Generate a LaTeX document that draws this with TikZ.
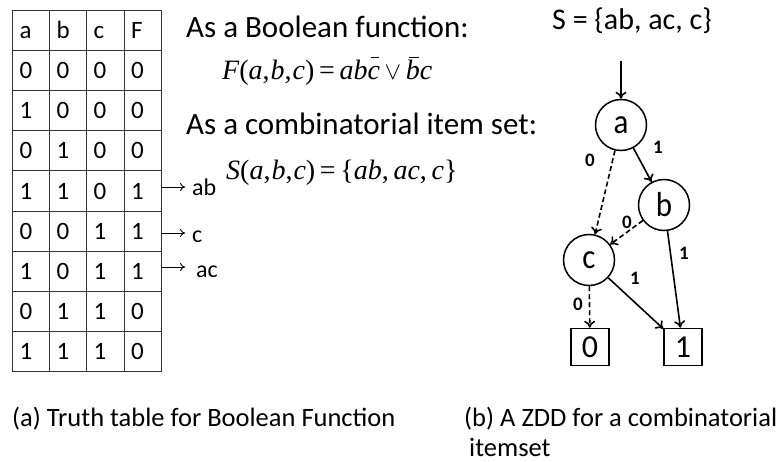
\documentclass[tikz,border=0pt]{standalone}
\usepackage{fontspec}
\setmainfont{Carlito}
\newfontfamily\tnr{Liberation Serif}
\usetikzlibrary{arrows.meta}
\newcommand\ovbar[1]{\leavevmode\setbox0\hbox{#1}\rlap{\hspace{0.25\wd0}\raisebox{0.78em}{\rule{0.7\wd0}{0.05em}}}\box0}
\newcommand\ital[1]{{\itshape #1}}
\newcommand\tallt[1]{\scalebox{1}[1.12]{#1}}
\tikzset{
  cell/.style={inner sep=0pt, anchor=base west, font=\fontsize{25}{27}\selectfont},
  tgrid/.style={draw=black!80, line width=0.9pt},
  big/.style={inner sep=0pt, anchor=base west, font=\fontsize{31}{33}\selectfont},
  eq/.style={inner sep=0pt, anchor=base west, font=\tnr\fontsize{28}{30}\selectfont},
  tarrow/.style={-{To[length=5pt,width=8pt]}, line width=0.9pt},
  side/.style={inner sep=0pt, anchor=base west, font=\fontsize{24}{26}\selectfont},
  zn/.style={circle, draw, line width=1.5pt, minimum size=51pt, inner sep=0pt, font=\fontsize{31}{33}\selectfont},
  zt/.style={rectangle, draw, line width=1.5pt, minimum width=38pt, minimum height=37pt, inner sep=0pt, font=\fontsize{32}{34}\selectfont},
  zedge/.style={-{To[length=7pt,width=11pt]}, line width=1.6pt},
  zdash/.style={zedge, dash pattern=on 5pt off 3pt},
  lab/.style={inner sep=0pt, font=\bfseries\fontsize{19}{21}\selectfont},
  captext/.style={inner sep=0pt, anchor=base west, font=\fontsize{26.5}{29}\selectfont}
}
\begin{document}
\begin{tikzpicture}[x=1pt, y=-1pt]
\useasboundingbox (0,0) rectangle (778,462);
% table grid
\foreach \xx in {12,49,86,124,161} \draw[tgrid] (\xx,10) -- (\xx,372);
\foreach \r in {0,...,9} \draw[tgrid] (12,10+40.2*\r) -- (161,10+40.2*\r);
% table content
\foreach \row [count=\i from 0] in {{a,b,c,F},{0,0,0,0},{1,0,0,0},{0,1,0,0},{1,1,0,1},{0,0,1,1},{1,0,1,1},{0,1,1,0},{1,1,1,0}}{
  \foreach \v [count=\j from 0] in \row {
    \pgfmathsetmacro\cx{{19.5,56.5,93.5,131}[\j]}
    \node[cell] (t\i-\j) at (\cx, 10+40.2*\i+28.3) {\v};
  }
}
% arrows from table
\coordinate (r4) at (161,187);
\coordinate (r5) at (161,233);
\coordinate (r6) at (161,267);
\node[side] (ab) at (192,196) {ab};
\node[side] (cc) at (192,243) {c};
\node[side] (ac) at (196,277) {ac};
\draw[tarrow] (r4) -- (185,187);
\draw[tarrow] (r5) -- (185,233);
\draw[tarrow] (r6) -- (185,267);
% headings and formulas
\node[big] (h1) at (186,38) {As a Boolean function:};
\node[eq] (f1) at (222,80) {\ital{F}(\ital{a},\hspace{1pt}\ital{b},\hspace{1pt}\ital{c})\,=\,\ital{ab\ovbar{c}}\,$\vee$\,\ital{\ovbar{b}c}};
\node[big] (h2) at (186,135) {As a combinatorial item set:};
\node[eq] (f2) at (226,180) {\ital{S}(\ital{a},\hspace{1pt}\ital{b},\hspace{1pt}\ital{c})\,=\,\{\ital{ab},\,\ital{ac},\,\ital{c}\}};
% ZDD
\node[big, font=\fontsize{30}{32}\selectfont] (sset) at (552,30) {S = \{ab, ac, c\}};
\coordinate (in) at (621,61);
\node[zn] (a) at (621,125) {\tallt{a}};
\node[zn] (b) at (664,205) {\tallt{b}};
\node[zn] (c) at (589,260) {\tallt{c}};
\node[zt] (z0) at (590,347) {0};
\node[zt] (z1) at (683,347) {1};
\draw[zedge] (in) -- (a);
\draw[zedge] (a) -- (b);
\draw[zdash] (a) -- (c);
\draw[zdash] (b) -- (c);
\draw[zedge] (b) -- (z1);
\draw[zedge] (c) -- (z1);
\draw[zdash] (c) -- (z0);
\node[lab] at (658,147) {1};
\node[lab] at (590,160) {0};
\node[lab] at (627,222) {0};
\node[lab] at (684,253) {1};
\node[lab] at (635,278) {1};
\node[lab] at (578,304) {0};
% captions
\node[captext] (ca) at (12,426) {(a) Truth table for Boolean Function};
\node[captext] (cb) at (464,426) {(b) A ZDD for a combinatorial};
\node[captext] (cb2) at (469,456) {itemset};
\end{tikzpicture}
\end{document}
